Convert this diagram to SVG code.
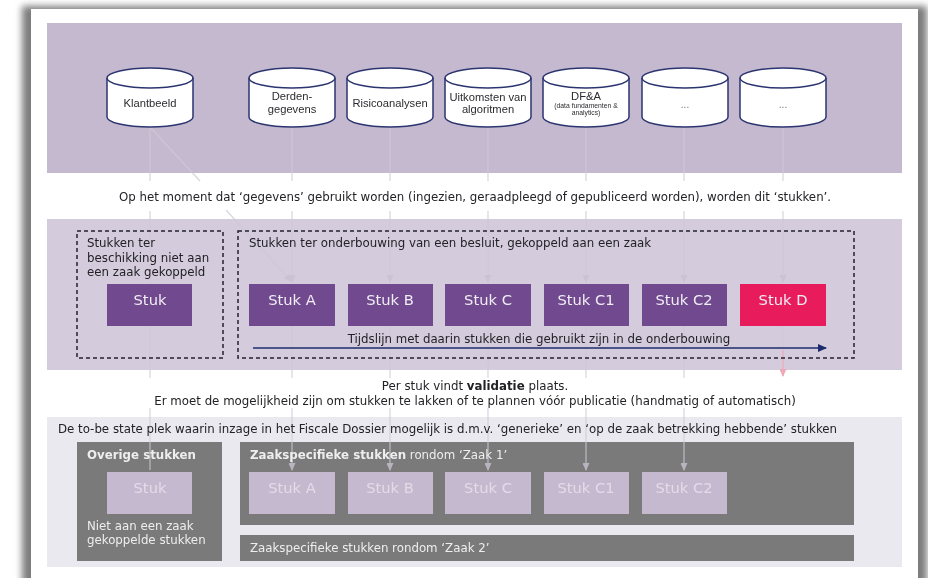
<svg xmlns="http://www.w3.org/2000/svg" width="928" height="578" viewBox="0 0 928 578">
<style>
text{font-family:"DejaVu Sans",Verdana,sans-serif;fill:#222226}
.cyl{fill:#fff;stroke:#2b3470;stroke-width:1.5}
.cyt{fill:none;stroke:#2b3470;stroke-width:1.5}
.cl{font-size:11.2px;text-anchor:middle;font-family:"Liberation Sans",Arial,sans-serif;fill:#2c2c30}
.m{font-size:11.8px;text-anchor:middle}
.s{font-size:11.8px}
.p{fill:#6f4a8e}
.bt{font-size:14.7px;fill:#f1edf4;text-anchor:middle}
.lb{fill:#c5b9cf}
.lt{font-size:14.7px;fill:#e2dce8;text-anchor:middle}
.g{fill:#7a7a7a}
.w{font-size:11.8px;fill:#eeeeee}
.c{stroke:#cfc8d6;stroke-width:1.2;fill:none;opacity:.8}
.d{fill:none;stroke:#23232c;stroke-width:1.5;stroke-dasharray:4 3}
</style>
<defs>
<filter id="sh" x="-5%" y="-5%" width="110%" height="110%"><feGaussianBlur stdDeviation="3.500"/></filter>
<filter id="soft" x="0" y="0" width="100%" height="100%"><feGaussianBlur stdDeviation="0.35"/></filter>
<marker id="ah" markerWidth="8" markerHeight="7" refX="7" refY="3.5" orient="auto" markerUnits="userSpaceOnUse"><path d="M0 0L8 3.5L0 7Z" fill="#c9c2d1"/></marker>
<marker id="pk" markerWidth="8" markerHeight="7" refX="7" refY="3.5" orient="auto" markerUnits="userSpaceOnUse"><path d="M0 0L8 3.5L0 7Z" fill="#f0a8b8"/></marker>
<marker id="nv" markerWidth="9" markerHeight="8" refX="8" refY="4" orient="auto" markerUnits="userSpaceOnUse"><path d="M0 0L9 4L0 8Z" fill="#1f2a6e"/></marker>
<g id="cy"><path class="cyl" d="M0 10A43 10 0 0 1 86 10V49A43 10 0 0 1 0 49Z"/><path class="cyt" d="M0 10A43 10 0 0 0 86 10"/></g>
</defs>
<rect x="22" y="6" width="905" height="580" fill="#7d7d7d" filter="url(#sh)"/>
<rect x="31" y="9" width="887" height="569" fill="#fff"/>
<g filter="url(#soft)">
<rect id="panel-bronnen" x="47" y="23" width="855" height="150" fill="#c5b9cf"/>
<rect id="panel-stukken" x="47" y="219" width="855" height="151" fill="#d4cbdc"/>
<rect id="panel-inzage" x="47" y="417" width="855" height="150" fill="#ebe9f0"/>
<g id="inzage-vakken">
<rect id="vak-overig" class="g" x="77" y="442" width="145" height="119"/>
<rect id="vak-zaak1" class="g" x="240" y="442" width="614" height="83"/>
<rect id="vak-zaak2" class="g" x="240" y="535" width="614" height="26"/>
</g>
<g id="connectors">
<path class="c" d="M150 127V181M150 211V378M150 408V470"/>
<path class="c" d="M150 127L200 181"/>
<path class="c" d="M226 210L291 281" marker-end="url(#ah)"/>
<path class="c" d="M292 127V181M292 211V282" marker-end="url(#ah)"/>
<path class="c" d="M390 127V181M390 211V282" marker-end="url(#ah)"/>
<path class="c" d="M488 127V181M488 211V282" marker-end="url(#ah)"/>
<path class="c" d="M586 127V181M586 211V282" marker-end="url(#ah)"/>
<path class="c" d="M684 127V181M684 211V282" marker-end="url(#ah)"/>
<path class="c" d="M783 127V181M783 211V282" marker-end="url(#ah)"/>
<path class="c" d="M292 326V378M292 408V470" marker-end="url(#ah)"/>
<path class="c" d="M390 326V378M390 408V470" marker-end="url(#ah)"/>
<path class="c" d="M488 326V378M488 408V470" marker-end="url(#ah)"/>
<path class="c" d="M586 326V378M586 408V470" marker-end="url(#ah)"/>
<path class="c" d="M684 326V378M684 408V470" marker-end="url(#ah)"/>
<path d="M783 350V376" stroke="#f0a8b8" stroke-width="1.2" fill="none" marker-end="url(#pk)"/>
<path class="c" d="M783 326V348"/>
<path d="M253 348H826" stroke="#1f2a6e" stroke-width="1.5" fill="none" marker-end="url(#nv)"/>
</g>
<g id="db-klantbeeld"><use href="#cy" x="107" y="68"/><text class="cl" x="150" y="107">Klantbeeld</text></g>
<g id="db-derden"><use href="#cy" x="249" y="68"/><text class="cl" x="292" y="100">Derden-</text><text class="cl" x="292" y="113">gegevens</text></g>
<g id="db-risico"><use href="#cy" x="347" y="68"/><text class="cl" x="390" y="107">Risicoanalysen</text></g>
<g id="db-uitkomsten"><use href="#cy" x="445" y="68"/><text class="cl" x="488" y="101">Uitkomsten van</text><text class="cl" x="488" y="113">algoritmen</text></g>
<g id="db-dfa"><use href="#cy" x="543" y="68"/><text class="cl" x="586" y="100">DF&amp;A</text><text class="cl" x="586" y="107.500" style="font-size:6.8px">(data fundamenten &amp;</text><text class="cl" x="586" y="115" style="font-size:6.8px">analytics)</text></g>
<g id="db-leeg1"><use href="#cy" x="642" y="68"/><text class="cl" x="685" y="108" style="font-size:10px;fill:#777">...</text></g>
<g id="db-leeg2"><use href="#cy" x="740" y="68"/><text class="cl" x="783" y="108" style="font-size:10px;fill:#777">...</text></g>
<text class="m" x="475" y="201">Op het moment dat ‘gegevens’ gebruikt worden (ingezien, geraadpleegd of gepubliceerd worden), worden dit ‘stukken’.</text>
<rect id="kader-links" class="d" x="77" y="231" width="146" height="127"/>
<rect id="kader-rechts" class="d" x="238" y="231" width="616" height="127"/>
<text class="s" x="87" y="247">Stukken ter</text><text class="s" x="87" y="262">beschikking niet aan</text><text class="s" x="87" y="276">een zaak gekoppeld</text>
<text class="s" x="249" y="247">Stukken ter onderbouwing van een besluit, gekoppeld aan een zaak</text>
<g id="stuk"><rect class="p" x="107" y="284" width="85" height="42"/><text class="bt" x="150" y="305">Stuk</text></g>
<g id="stuk-a"><rect class="p" x="249" y="284" width="86" height="42"/><text class="bt" x="292" y="305">Stuk A</text></g>
<g id="stuk-b"><rect class="p" x="348" y="284" width="85" height="42"/><text class="bt" x="390" y="305">Stuk B</text></g>
<g id="stuk-c"><rect class="p" x="445" y="284" width="86" height="42"/><text class="bt" x="488" y="305">Stuk C</text></g>
<g id="stuk-c1"><rect class="p" x="544" y="284" width="85" height="42"/><text class="bt" x="586" y="305">Stuk C1</text></g>
<g id="stuk-c2"><rect class="p" x="642" y="284" width="85" height="42"/><text class="bt" x="684" y="305">Stuk C2</text></g>
<g id="stuk-d"><rect x="740" y="284" width="86" height="42" fill="#e81f5d"/><text class="bt" x="783" y="305">Stuk D</text></g>
<text class="m" x="539" y="343">Tijdslijn met daarin stukken die gebruikt zijn in de onderbouwing</text>
<text class="m" x="475" y="390">Per stuk vindt <tspan font-weight="bold">validatie</tspan> plaats.</text>
<text class="m" x="475" y="405">Er moet de mogelijkheid zijn om stukken te lakken of te plannen vóór publicatie (handmatig of automatisch)</text>
<text class="m" x="447.500" y="433">De to-be state plek waarin inzage in het Fiscale Dossier mogelijk is d.m.v. ‘generieke’ en ‘op de zaak betrekking hebbende’ stukken</text>
<text class="w" x="87" y="459" font-weight="bold">Overige stukken</text>
<text class="w" x="250" y="459"><tspan font-weight="bold">Zaakspecifieke stukken</tspan> rondom ‘Zaak 1’</text>
<g id="inz-stuk"><rect class="lb" x="107" y="472" width="85" height="42"/><text class="lt" x="150" y="493">Stuk</text></g>
<g id="inz-a"><rect class="lb" x="249" y="472" width="86" height="42"/><text class="lt" x="292" y="493">Stuk A</text></g>
<g id="inz-b"><rect class="lb" x="348" y="472" width="85" height="42"/><text class="lt" x="390" y="493">Stuk B</text></g>
<g id="inz-c"><rect class="lb" x="445" y="472" width="86" height="42"/><text class="lt" x="488" y="493">Stuk C</text></g>
<g id="inz-c1"><rect class="lb" x="544" y="472" width="85" height="42"/><text class="lt" x="586" y="493">Stuk C1</text></g>
<g id="inz-c2"><rect class="lb" x="642" y="472" width="85" height="42"/><text class="lt" x="684" y="493">Stuk C2</text></g>
<text class="w" x="87" y="530">Niet aan een zaak</text><text class="w" x="87" y="544">gekoppelde stukken</text>
<text class="w" x="250" y="552">Zaakspecifieke stukken rondom ‘Zaak 2’</text>
</g>
</svg>
